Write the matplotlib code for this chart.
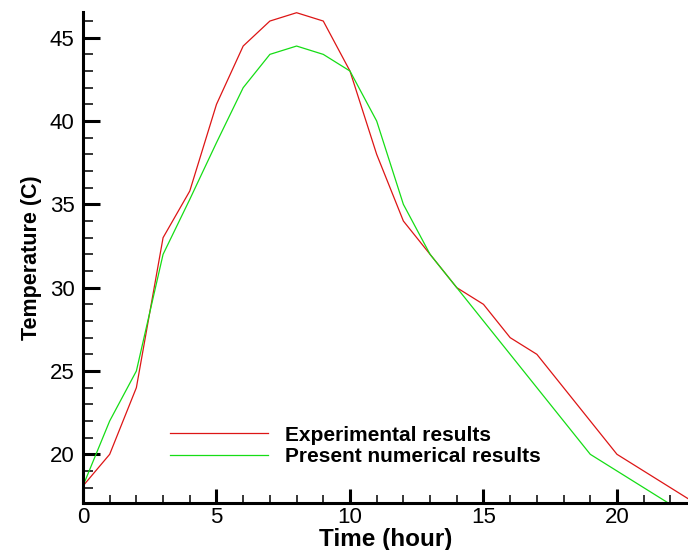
import matplotlib
matplotlib.use('Agg')
import matplotlib.pyplot as plt
from matplotlib.ticker import MultipleLocator

# data
hours = [0, 1, 2, 3, 4, 5, 6, 7, 8, 9, 10, 11, 12, 13, 14, 15, 16, 17, 18, 19, 20, 21, 22, 23]
experimental = [18.1, 20, 24, 33, 35.8, 41, 44.5, 46, 46.5, 46, 43, 38, 34, 32, 30, 29, 27, 26, 24, 22, 20, 19, 18, 17]
numerical = [18.1, 22, 25, 32, 35.3, 38.7, 42, 44, 44.5, 44, 43, 40, 35, 32, 30, 28, 26, 24, 22, 20, 19, 18, 17, 16]

plt.rcParams['font.family'] = ['Liberation Sans', 'DejaVu Sans']

fig = plt.figure(figsize=(6.88, 5.5), dpi=100)
ax = fig.add_axes([0.1206, 0.0849, 0.8794, 0.8938])

ax.plot(hours, experimental, color='#dd1515', lw=0.9, label='Experimental results')
ax.plot(hours, numerical, color='#15dd15', lw=0.9, label='Present numerical results')

ax.set_xlim(0, 22.66)
ax.set_ylim(17.06, 46.56)

ax.xaxis.set_major_locator(MultipleLocator(5))
ax.xaxis.set_minor_locator(MultipleLocator(1))
ax.yaxis.set_major_locator(MultipleLocator(5))
ax.yaxis.set_minor_locator(MultipleLocator(1))

ax.spines['top'].set_visible(False)
ax.spines['right'].set_visible(False)
ax.spines['left'].set_linewidth(2.2)
ax.spines['bottom'].set_linewidth(2.2)

ax.tick_params(axis='both', which='both', direction='in', labelsize=16)
ax.tick_params(axis='y', which='major', length=12, width=2.2, pad=6)
ax.tick_params(axis='y', which='minor', length=7, width=1.1)
ax.tick_params(axis='x', which='major', length=10, width=2.2, pad=3)
ax.tick_params(axis='x', which='minor', length=6, width=1.1)

ax.set_xlabel('Time (hour)', fontsize=17.5, fontweight='bold', labelpad=-0.5)
ax.set_ylabel('Temperature (C)', fontsize=15.5, fontweight='bold', labelpad=6)

ax.legend(loc='upper left', bbox_to_anchor=(0.144, 0.158), frameon=False,
          borderpad=0, borderaxespad=0, handlelength=4.7, handletextpad=0.8,
          labelspacing=0.12, prop={'weight': 'bold', 'size': 15})

fig.savefig('out.png', dpi=100)
